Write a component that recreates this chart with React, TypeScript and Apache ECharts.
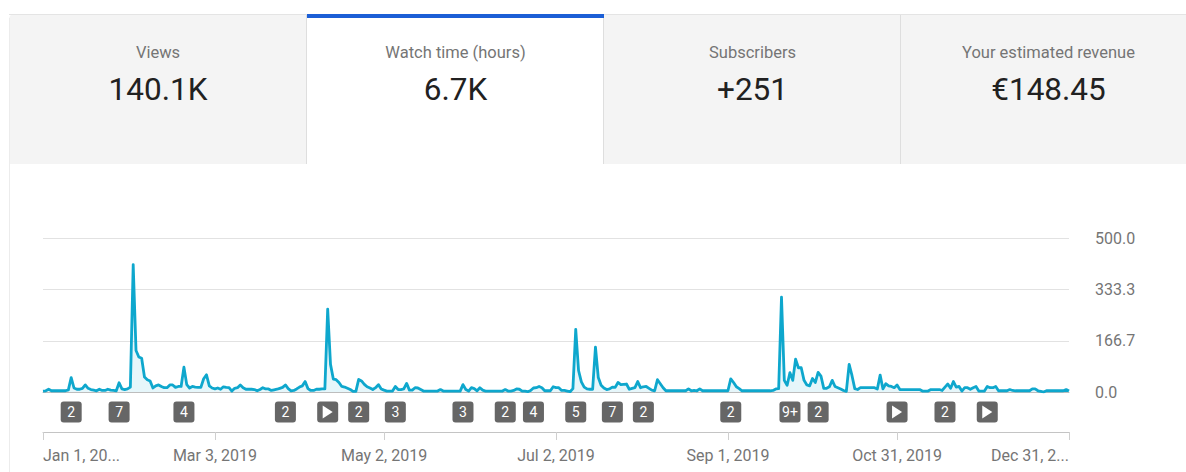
import React, { useEffect, useRef } from "react";
import * as echarts from "echarts";

const tabTitles = ["Views", "Watch time (hours)", "Subscribers", "Your estimated revenue"];
const tabValues = ["140.1K", "6.7K", "+251", "€148.45"];

const watchHours = [
  3, 4, 9, 4, 4, 4, 4, 4, 4, 7,
  47, 13, 9, 9, 12, 23, 12, 8, 6, 4,
  9, 5, 5, 9, 6, 5, 4, 30, 10, 8,
  10, 16, 415, 135, 114, 110, 49, 40, 36, 13,
  20, 23, 18, 14, 14, 23, 23, 15, 18, 18,
  81, 24, 13, 18, 16, 15, 15, 43, 56, 20,
  13, 10, 13, 9, 17, 15, 14, 3, 12, 14,
  23, 14, 9, 9, 9, 8, 4, 8, 14, 10,
  10, 5, 7, 9, 12, 15, 23, 11, 4, 5,
  10, 16, 20, 34, 11, 5, 5, 9, 9, 10,
  10, 270, 90, 42, 40, 31, 18, 16, 12, 8,
  2, 2, 41, 36, 25, 17, 13, 8, 14, 24,
  10, 6, 3, 3, 3, 18, 8, 8, 10, 28,
  6, 6, 14, 13, 8, 3, 3, 3, 3, 3,
  3, 8, 3, 3, 3, 3, 3, 3, 3, 24,
  8, 3, 14, 11, 4, 14, 6, 3, 3, 3,
  3, 3, 3, 3, 8, 3, 3, 5, 10, 9,
  3, 3, 1, 5, 13, 14, 18, 14, 4, 4,
  4, 17, 14, 14, 5, 5, 3, 1, 11, 204,
  70, 33, 16, 10, 9, 9, 146, 47, 22, 13,
  8, 10, 16, 15, 31, 24, 25, 26, 9, 12,
  14, 34, 14, 17, 18, 12, 6, 4, 40, 27,
  14, 4, 4, 4, 4, 4, 4, 4, 4, 10,
  4, 5, 4, 10, 4, 4, 4, 4, 4, 4,
  4, 4, 4, 4, 43, 31, 17, 11, 4, 4,
  4, 4, 4, 4, 4, 4, 4, 4, 4, 5,
  10, 11, 309, 38, 22, 63, 38, 107, 79, 79,
  38, 23, 20, 44, 31, 64, 52, 12, 12, 17,
  38, 18, 14, 10, 5, 2, 90, 54, 11, 8,
  14, 14, 14, 14, 14, 14, 10, 55, 10, 27,
  20, 18, 14, 23, 8, 8, 8, 8, 8, 8,
  8, 8, 3, 3, 3, 8, 8, 8, 8, 5,
  16, 26, 12, 34, 16, 18, 3, 14, 14, 9,
  14, 18, 3, 3, 3, 18, 14, 14, 18, 4,
  4, 4, 4, 8, 5, 4, 4, 4, 4, 4,
  4, 10, 10, 4, 2, 0, 4, 4, 4, 4,
  4, 4, 4, 8, 3,
];

const days = watchHours.map((_, i) => {
  const d = new Date(Date.UTC(2019, 0, 1 + i));
  return d.toISOString().slice(0, 10);
});

const tickDays = ["2019-01-01", "2019-03-03", "2019-05-02", "2019-07-02", "2019-09-01", "2019-10-31", "2019-12-31"];
const tickLabels = ["Jan 1, 20...", "Mar 3, 2019", "May 2, 2019", "Jul 2, 2019", "Sep 1, 2019", "Oct 31, 2019", "Dec 31, 2..."];

const markerDays = [
  "2019-01-11", "2019-01-28", "2019-02-20", "2019-03-28", "2019-04-12", "2019-04-23", "2019-05-06",
  "2019-05-30", "2019-06-14", "2019-06-24", "2019-07-09", "2019-07-22", "2019-08-02", "2019-09-02",
  "2019-09-23", "2019-10-03", "2019-10-31", "2019-11-17", "2019-12-02",
];
const markerLabels = ["2", "7", "4", "2", "play", "2", "3", "3", "2", "4", "5", "7", "2", "2", "9+", "2", "play", "2", "play"];

const FONT = "Roboto";
const BADGE =
  "path://M3,0H18a3,3 0 0 1 3,3V18a3,3 0 0 1 -3,3H3a3,3 0 0 1 -3,-3V3a3,3 0 0 1 3,-3Z";

function tabGraphics() {
  const edges = [9, 307, 604, 901, 1186];
  const els: any[] = [];
  tabTitles.forEach((title, i) => {
    const active = i === 1;
    els.push({
      type: "rect",
      silent: true,
      z: 1,
      shape: { x: edges[i], y: 14, width: edges[i + 1] - edges[i], height: 150, r: i === 0 ? [5, 0, 0, 0] : 0 },
      style: { fill: active ? "#ffffff" : "#f4f4f4" },
    });
    const cx = (edges[i] + edges[i + 1]) / 2 + (i === 3 ? 5 : 0);
    els.push({
      type: "text", silent: true, z: 3, x: cx, y: 52,
      style: { text: title, fill: "#757575", font: `400 16.5px ${FONT}`, align: "center", verticalAlign: "middle" },
    });
    els.push({
      type: "text", silent: true, z: 3, x: cx, y: 89,
      style: { text: tabValues[i], fill: "#212121", font: `400 31.5px ${FONT}`, align: "center", verticalAlign: "middle" },
    });
  });
  [306.5, 603.5, 900.5].forEach((x) => {
    els.push({
      type: "line", silent: true, z: 2,
      shape: { x1: x, y1: 14, x2: x, y2: 164 },
      style: { stroke: "#dedede", lineWidth: 1 },
    });
  });
  els.push({
    type: "line", silent: true, z: 2,
    shape: { x1: 9, y1: 14.5, x2: 1186, y2: 14.5 },
    style: { stroke: "#e4e4e4", lineWidth: 1 },
  });
  els.push({
    type: "line", silent: true, z: 2,
    shape: { x1: 9.5, y1: 18, x2: 9.5, y2: 472 },
    style: { stroke: "#ececec", lineWidth: 1 },
  });
  els.push({
    type: "rect", silent: true, z: 4,
    shape: { x: 307, y: 14, width: 297, height: 4 },
    style: { fill: "#1c5fd6" },
  });
  return els;
}

export default function App() {
  const ref = useRef<HTMLDivElement>(null);
  useEffect(() => {
    document.body.style.margin = "0";
    const chart = echarts.init(ref.current!, undefined, { renderer: "svg" });
    const isTick = (i: number) => tickDays.includes(days[i]);
    chart.setOption({
      animation: false,
      backgroundColor: "#ffffff",
      graphic: tabGraphics(),
      grid: [
        { left: 43, width: 1026, top: 238.5, height: 153.5 },
        { left: 43, width: 1026, top: 392, height: 40 },
      ],
      xAxis: [
        {
          type: "category",
          gridIndex: 0,
          data: days,
          boundaryGap: false,
          axisLine: { show: true, lineStyle: { color: "#bdbdbd", width: 1 } },
          axisTick: { show: false },
          axisLabel: { show: false },
          splitLine: { show: false },
        },
        {
          type: "category",
          gridIndex: 1,
          data: days,
          boundaryGap: false,
          axisLine: { show: true, lineStyle: { color: "#c4c4c4", width: 1 } },
          axisTick: { show: true, length: 8, interval: isTick, lineStyle: { color: "#cfcfcf", width: 1 } },
          axisLabel: {
            show: true,
            interval: isTick,
            margin: 15,
            color: "#757575",
            fontFamily: FONT,
            fontSize: 16,
            alignMinLabel: "left",
            alignMaxLabel: "right",
            hideOverlap: false,
            formatter: (v: string) => tickLabels[tickDays.indexOf(v)] ?? "",
          },
          splitLine: { show: false },
        },
      ],
      yAxis: [
        {
          type: "value",
          gridIndex: 0,
          position: "right",
          min: 0,
          max: 500,
          interval: 500 / 3,
          axisLine: { show: false },
          axisTick: { show: false },
          axisLabel: {
            margin: 26,
            color: "#757575",
            fontFamily: FONT,
            fontSize: 16,
            formatter: (v: number) => v.toFixed(1),
          },
          splitLine: { show: true, lineStyle: { color: "#e2e2e2", width: 1 } },
        },
        {
          type: "value",
          gridIndex: 1,
          min: 0,
          max: 1,
          show: false,
          splitLine: { show: false },
        },
      ],
      series: [
        {
          type: "line",
          xAxisIndex: 0,
          yAxisIndex: 0,
          data: watchHours,
          showSymbol: false,
          symbol: "none",
          smooth: false,
          lineStyle: { color: "#0ea7cd", width: 2.8, join: "round" },
          areaStyle: { color: "#0ea7cd", opacity: 0.1 },
          z: 3,
        },
        {
          type: "scatter",
          xAxisIndex: 1,
          yAxisIndex: 1,
          symbol: BADGE,
          symbolSize: 21,
          itemStyle: { color: "#666666", opacity: 1 },
          data: markerDays.map((d) => [d, 0.5]),
          label: {
            show: true,
            position: "inside",
            color: "#ffffff",
            fontFamily: FONT,
            fontSize: 14,
            formatter: (p: any) => {
              const t = markerLabels[p.dataIndex];
              return t === "play" ? "" : t;
            },
          },
          z: 3,
        },
        {
          type: "scatter",
          xAxisIndex: 1,
          yAxisIndex: 1,
          symbol: "path://M0,0L10,6.5L0,13Z",
          symbolSize: [10, 13],
          itemStyle: { color: "#ffffff", opacity: 1 },
          data: markerDays.filter((_, i) => markerLabels[i] === "play").map((d) => [d, 0.5]),
          z: 4,
        },
      ],
    });
    return () => chart.dispose();
  }, []);
  return <div ref={ref} style={{ width: 1186, height: 472, overflow: "hidden" }} />;
}
